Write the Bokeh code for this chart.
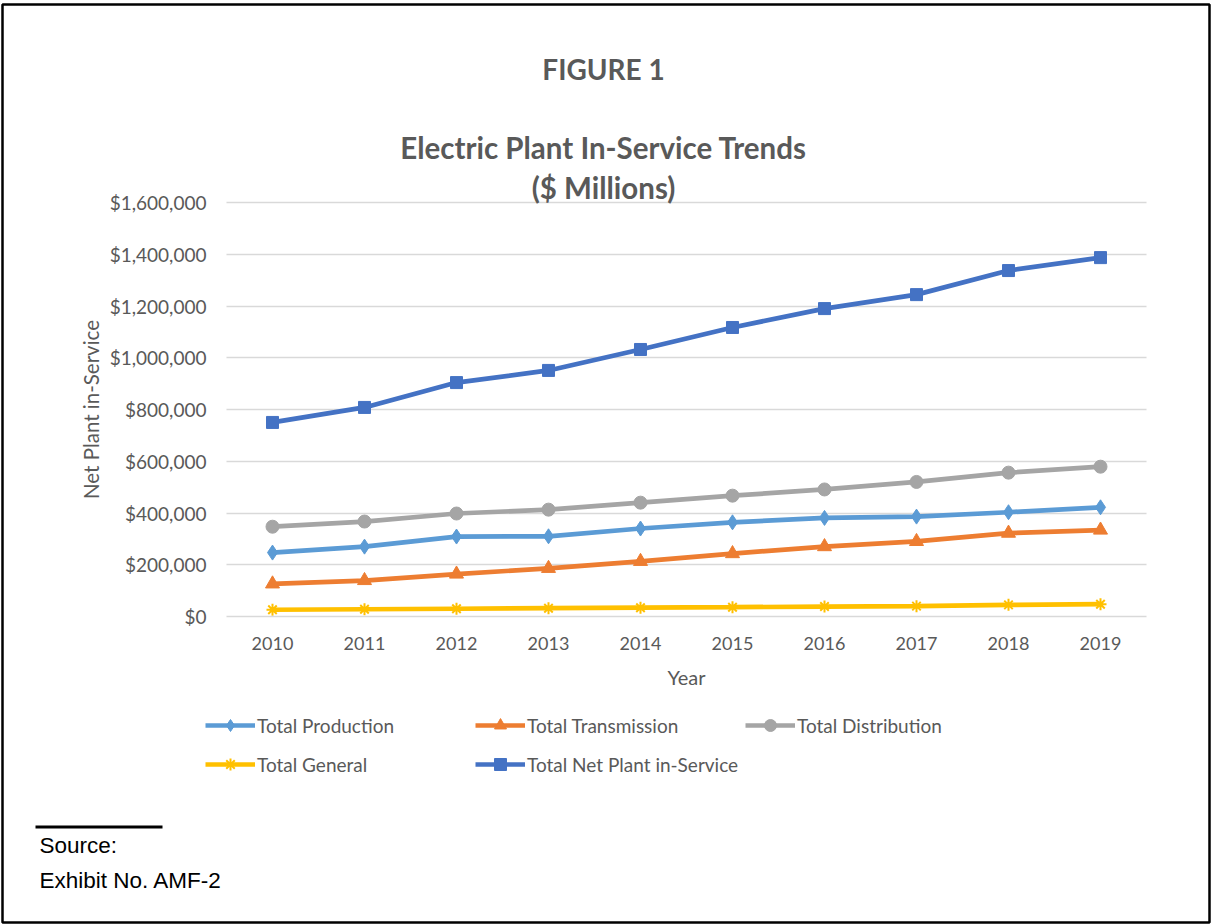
from bokeh.plotting import figure
from bokeh.models import (Label, Legend, LegendItem, FixedTicker, NumeralTickFormatter,
                          BoxAnnotation, Range1d, Grid)
from bokeh.embed import file_html
from bokeh.resources import INLINE

# ---------------- data ----------------
years = [2010, 2011, 2012, 2013, 2014, 2015, 2016, 2017, 2018, 2019]
total_production = [247000, 270000, 309000, 310000, 340000, 364000, 381000, 386000, 403000, 422000]
total_transmission = [126000, 139000, 164000, 186000, 213000, 243000, 270000, 290000, 322000, 334000]
total_distribution = [347000, 367000, 398000, 413000, 440000, 467000, 491000, 520000, 556000, 579000]
total_general = [26000, 28000, 30000, 32000, 34000, 36000, 38500, 40000, 45000, 47500]
total_net_plant = [750000, 808000, 904000, 951000, 1032000, 1117000, 1190000, 1244000, 1337000, 1387000]
y_ticks = [0, 200000, 400000, 600000, 800000, 1000000, 1200000, 1400000, 1600000]

series = [
    ("Total Production", total_production, "#5B9BD5", "diamond", 15),
    ("Total Transmission", total_transmission, "#ED7D31", "triangle", 14),
    ("Total Distribution", total_distribution, "#A5A5A5", "circle", 13),
    ("Total General", total_general, "#FFC000", "asterisk", 12),
    ("Total Net Plant in-Service", total_net_plant, "#4472C4", "square", 12),
]

W, H = 1211, 924
PL, PR, PT, PB = 226, 1146, 202, 616      # plot-area edges in page pixels
XLO, XHI = 2009.5, 2019.5                 # plot-area data extent
YLO, YHI = 0, 1600000
XS = (PR - PL) / (XHI - XLO)              # px per year
YS = (PB - PT) / (YHI - YLO)              # px per dollar

FONT = "Lato"
GRAY = "#595959"
GRID = "#D9D9D9"

# the frame spans the whole page; the data ranges are widened so that the
# plot area lands where it sits in the reference
p = figure(width=W, height=H, output_backend="svg", toolbar_location=None,
           x_range=Range1d(XLO - PL / XS, XHI + (W - PR) / XS),
           y_range=Range1d(YLO - (H - PB) / YS, YHI + PT / YS),
           min_border=0, min_border_left=0, min_border_right=0,
           min_border_top=0, min_border_bottom=0)
p.outline_line_color = None
p.background_fill_color = "white"
p.border_fill_color = "white"


def dx(px):
    return XLO + (px - PL) / XS


def dy(py):
    return YLO + (PB - py) / YS


# axes pinned to the plot-area edges
p.xaxis.fixed_location = YLO
p.xaxis.bounds = (XLO, XHI)
p.xaxis.ticker = FixedTicker(ticks=years)
p.xaxis.axis_line_color = GRID
p.xaxis.axis_line_width = 1.3
p.xaxis.major_tick_line_color = None
p.xaxis.minor_tick_line_color = None
p.xaxis.major_label_text_font = FONT
p.xaxis.major_label_text_font_size = "18px"
p.xaxis.major_label_text_color = GRAY
p.xaxis.major_label_standoff = 14
p.xaxis.axis_label = "Year"
p.xaxis.axis_label_text_font = FONT
p.xaxis.axis_label_text_font_size = "20px"
p.xaxis.axis_label_text_font_style = "normal"
p.xaxis.axis_label_text_color = GRAY
p.xaxis.axis_label_standoff = 12

p.yaxis.fixed_location = XLO
p.yaxis.bounds = (YLO, YHI)
p.yaxis.ticker = FixedTicker(ticks=y_ticks)
p.yaxis.formatter = NumeralTickFormatter(format="$0,0")
p.yaxis.axis_line_color = None
p.yaxis.major_tick_line_color = None
p.yaxis.minor_tick_line_color = None
p.yaxis.major_label_text_font = FONT
p.yaxis.major_label_text_font_size = "19px"
p.yaxis.major_label_text_color = GRAY
p.yaxis.major_label_standoff = 14
p.yaxis.axis_label = "Net Plant in-Service"
p.yaxis.axis_label_text_font = FONT
p.yaxis.axis_label_text_font_size = "20.5px"
p.yaxis.axis_label_text_font_style = "normal"
p.yaxis.axis_label_text_color = GRAY
p.yaxis.axis_label_standoff = 4

p.xgrid.grid_line_color = None
if "cross_bounds" in Grid.properties():
    p.ygrid.ticker = FixedTicker(ticks=y_ticks[1:])
    p.ygrid.cross_bounds = (XLO, XHI)
    p.ygrid.grid_line_color = GRID
    p.ygrid.grid_line_width = 1.3
else:
    p.ygrid.grid_line_color = None
    p.segment(x0=XLO, x1=XHI, y0=y_ticks[1:], y1=y_ticks[1:],
              line_color=GRID, line_width=1.3)

# series
items = []
for name, vals, color, marker, size in series:
    l = p.line(years, vals, line_color=color, line_width=4.7)
    s = p.scatter(years, vals, marker=marker, size=size, fill_color=color,
                  line_color=color, line_width=2 if marker == "asterisk" else 1)
    items.append(LegendItem(label=name, renderers=[l, s]))

# legend grid below the chart: 3 columns (pitch 270px), 2 rows (pitch 39px)
legend = Legend(items=items, orientation="horizontal", ncols=3,
                location=(205, H - 781),
                glyph_width=50, glyph_height=30, label_height=34,
                label_width=213, label_standoff=2, spacing=5,
                padding=0, margin=0,
                border_line_color=None, background_fill_alpha=0,
                label_text_font=FONT, label_text_font_size="19px",
                label_text_color=GRAY)
p.add_layout(legend, "center")

# titles
for t, px, py, fs in [("FIGURE 1", 603, 68, "28px"),
                      ("Electric Plant In-Service Trends", 603, 147, "29.5px"),
                      ("($ Millions)", 603, 187, "29.5px")]:
    p.add_layout(Label(x=dx(px), y=dy(py), text=t, text_align="center",
                       text_baseline="middle", text_font=FONT,
                       text_font_size=fs, text_font_style="bold",
                       text_color=GRAY))

# source note
for t, px, py in [("Source:", 39, 845), ("Exhibit No. AMF-2", 39, 880)]:
    p.add_layout(Label(x=dx(px), y=dy(py), text=t, text_align="left",
                       text_baseline="middle", text_font="Liberation Sans",
                       text_font_size="22.5px", text_color="black"))

p.add_layout(BoxAnnotation(left=dx(35), right=dx(162), top=dy(825), bottom=dy(828),
                           fill_color="black", fill_alpha=1, line_color=None))
# outer border of the page
p.add_layout(BoxAnnotation(left=dx(2), right=dx(1209), top=dy(4), bottom=dy(922),
                           fill_alpha=0, line_color="black", line_alpha=1,
                           line_width=2.5))

open("out.html", "w").write(file_html(p, INLINE))
